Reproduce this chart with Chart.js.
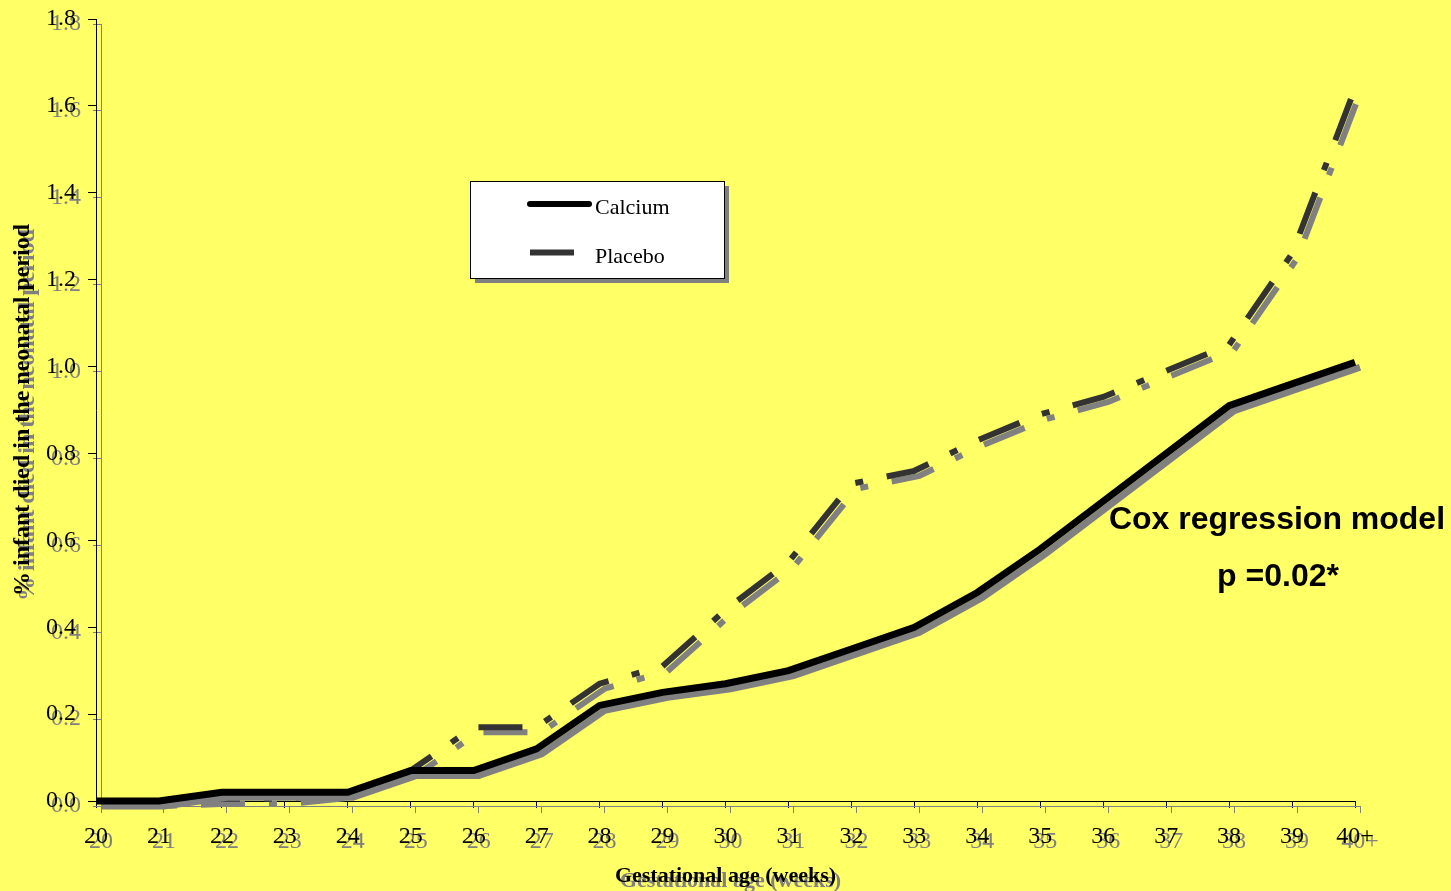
<!DOCTYPE html>
<html>
<head>
<meta charset="utf-8">
<title>Neonatal deaths by gestational age</title>
<script src="https://cdn.jsdelivr.net/npm/chart.js@4.4.1/dist/chart.umd.min.js"></script>
<style>
    html, body { margin: 0; padding: 0; background: #ffff66; }
    #wrap { position: relative; width: 1451px; height: 891px; }
</style>
</head>
<body>
<div id="wrap"><canvas id="deathChart" width="1451" height="891"></canvas></div>
<script>
// ---------------- Data ----------------
const weeks = ["20", "21", "22", "23", "24", "25", "26", "27", "28", "29", "30",
               "31", "32", "33", "34", "35", "36", "37", "38", "39", "40+"];
const calcium = [0, 0, 0.02, 0.02, 0.02, 0.07, 0.07, 0.12, 0.22, 0.25, 0.27,
                 0.30, 0.35, 0.40, 0.48, 0.58, 0.69, 0.80, 0.91, 0.96, 1.01];
const placebo = [0, 0, 0.005, 0.005, 0.02, 0.07, 0.17, 0.17, 0.27, 0.31, 0.44,
                 0.55, 0.73, 0.76, 0.83, 0.89, 0.93, 0.99, 1.05, 1.26, 1.64];
const seriesNames = ["Calcium", "Placebo"];
const coxLines = ["Cox regression model", "p =0.02*"];

const SERIF = "'Liberation Serif', 'Times New Roman', serif";
const SANS = "'Liberation Sans', Arial, sans-serif";
const SHADOW = "#808080";

// ---------------- Plugins ----------------
// grey drop shadow under axes, labels and lines
const dropShadow = {
    id: "dropShadow",
    beforeDraw(chart) {
        const ctx = chart.ctx;
        ctx.save();
        ctx.shadowColor = SHADOW;
        ctx.shadowOffsetX = 5;
        ctx.shadowOffsetY = 5;
        ctx.shadowBlur = 0;
    },
    afterDraw(chart) {
        chart.ctx.restore();
    }
};

// boxed legend and the Cox model note
const overlay = {
    id: "overlay",
    afterDraw(chart) {
        const ctx = chart.ctx;
        ctx.save();

        // legend box with its shadow
        ctx.fillStyle = SHADOW;
        ctx.fillRect(475, 186, 254, 97);
        ctx.fillStyle = "#ffffff";
        ctx.fillRect(470, 181, 254, 97);
        ctx.strokeStyle = "#000";
        ctx.lineWidth = 1;
        ctx.strokeRect(470.5, 181.5, 254, 97);

        ctx.lineCap = "round";
        ctx.lineWidth = 6;
        ctx.strokeStyle = "#000";
        ctx.beginPath();
        ctx.moveTo(530, 204);
        ctx.lineTo(589, 204);
        ctx.stroke();

        ctx.lineCap = "butt";
        ctx.strokeStyle = "#333333";
        ctx.beginPath();
        ctx.moveTo(530, 252.5);
        ctx.lineTo(574, 252.5);
        ctx.stroke();

        ctx.fillStyle = "#000";
        ctx.font = "22px " + SERIF;
        ctx.textBaseline = "alphabetic";
        ctx.textAlign = "left";
        ctx.fillText(seriesNames[0], 595, 214);
        ctx.fillText(seriesNames[1], 595, 263);

        // Cox regression note
        ctx.font = "bold 32px " + SANS;
        ctx.textAlign = "center";
        ctx.fillText(coxLines[0], 1277, 529);
        ctx.fillText(coxLines[1], 1278, 586);

        ctx.restore();
    }
};

// ---------------- Chart ----------------
const chart = new Chart(document.getElementById("deathChart").getContext("2d"), {
    type: "line",
    data: {
        labels: weeks,
        datasets: [
            {
                label: seriesNames[0],
                data: calcium,
                borderColor: "#000000",
                borderWidth: 7,
                pointRadius: 0,
                tension: 0,
                clip: false
            },
            {
                label: seriesNames[1],
                data: placebo,
                borderColor: "#333333",
                borderWidth: 6,
                borderDash: [44, 24, 8, 24],
                pointRadius: 0,
                tension: 0,
                clip: false
            }
        ]
    },
    options: {
        responsive: false,
        animation: false,
        events: [],
        layout: { padding: { top: 19, right: 96, left: 0, bottom: 0 } },
        plugins: {
            legend: { display: false },
            tooltip: { enabled: false }
        },
        scales: {
            x: {
                offset: false,
                afterFit: s => { s.height = 90; },
                border: { display: true, color: "#000", width: 1 },
                grid: { drawOnChartArea: false, drawTicks: true, tickLength: 7, color: "#000" },
                ticks: {
                    color: "#000",
                    autoSkip: false,
                    maxRotation: 0,
                    padding: 14,
                    font: { family: SERIF, size: 24 }
                },
                title: {
                    display: true,
                    text: "Gestational age (weeks)",
                    color: "#000",
                    padding: { top: 0, bottom: 1 },
                    font: { family: SERIF, size: 22, weight: "bold" }
                }
            },
            y: {
                min: 0,
                max: 1.8,
                afterFit: s => {
                    s.width = 96;
                    s.paddingTop = 0;
                    s.paddingBottom = 0;
                },
                border: { display: true, color: "#000", width: 1 },
                grid: { drawOnChartArea: false, drawTicks: true, tickLength: 8, color: "#000" },
                ticks: {
                    stepSize: 0.2,
                    color: "#000",
                    padding: 12,
                    font: { family: SERIF, size: 24 },
                    callback: v => Number(v).toFixed(1)
                },
                title: {
                    display: true,
                    text: "% infant died in the neonatal period",
                    color: "#000",
                    padding: { top: 8, bottom: 0 },
                    font: { family: SERIF, size: 24, weight: "bold" }
                }
            }
        }
    },
    plugins: [dropShadow, overlay]
});
</script>
</body>
</html>
